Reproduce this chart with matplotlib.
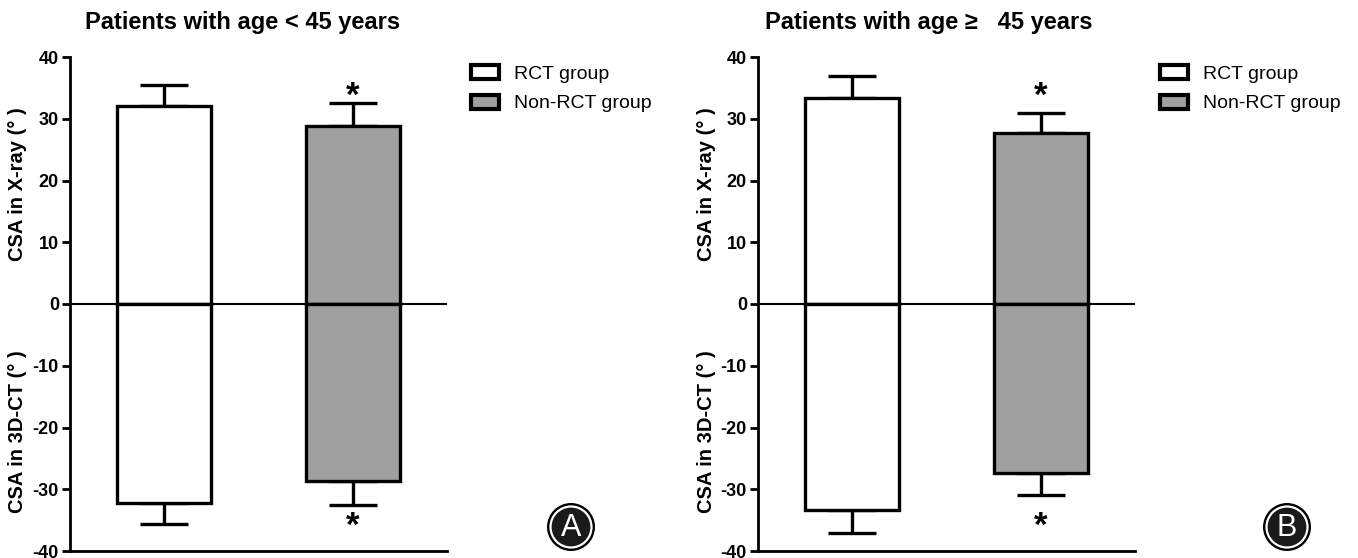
import matplotlib
matplotlib.use('Agg')
import matplotlib.pyplot as plt
from matplotlib.patches import Patch, Circle

plt.rcParams['font.family'] = ['Liberation Sans', 'DejaVu Sans']

# data (degrees)
groups = ['RCT group', 'Non-RCT group']
colors = ['white', '#a0a0a0']
panels = ['A', 'B']
titles = ['Patients with age < 45 years', 'Patients with age \u2265   45 years']
xray_mean = [[32.0, 28.9], [33.4, 27.7]]
xray_sd = [[3.4, 3.7], [3.5, 3.3]]
ct_mean = [[-32.2, -28.7], [-33.3, -27.4]]
ct_sd = [[3.4, 3.8], [3.8, 3.6]]
star = [[False, True], [False, True]]
star_y = [34.3, -35.3]
yticks = [-40, -30, -20, -10, 0, 10, 20, 30, 40]

W, H = 1358, 558
fig = plt.figure(figsize=(W / 100, H / 100), dpi=100)

lefts = [70, 758]
title_x = [243, 929]
legend_x = [471, 1160]
circle_x = [571, 1287]
circle_y = 527
lw = 2.4

for p in range(2):
  ax = fig.add_axes([lefts[p] / W, 7 / H, 377 / W, 494 / H])
  x = [0, 1]
  ax.bar(x, xray_mean[p], width=0.5, color=colors, edgecolor='black', linewidth=lw, zorder=3)
  ax.bar(x, ct_mean[p], width=0.5, color=colors, edgecolor='black', linewidth=lw, zorder=3)
  for i in x:
    ax.errorbar(i, xray_mean[p][i], yerr=[[0], [xray_sd[p][i]]], fmt='none', ecolor='black',
                elinewidth=lw, capsize=17, capthick=lw, zorder=2)
    ax.errorbar(i, ct_mean[p][i], yerr=[[ct_sd[p][i]], [0]], fmt='none', ecolor='black',
                elinewidth=lw, capsize=17, capthick=lw, zorder=2)
    if star[p][i]:
      for sy in star_y:
        # shift so the glyph centre (not the text box) sits on sy
        ax.annotate('*', xy=(i, sy), xytext=(0, -15), textcoords='offset points',
                    ha='center', va='bottom', fontsize=25, fontweight='bold')
  ax.axhline(0, color='black', linewidth=1.5, zorder=4)
  ax.set_xlim(-0.5, 1.5)
  ax.set_ylim(-40, 40)
  ax.set_yticks(yticks)
  ax.set_yticklabels([str(t) for t in yticks], fontsize=13, fontweight='bold')
  ax.set_xticks([])
  ax.spines['top'].set_visible(False)
  ax.spines['right'].set_visible(False)
  ax.spines['left'].set_linewidth(2)
  ax.spines['bottom'].set_linewidth(2)
  ax.tick_params(axis='y', width=2, length=6, pad=2)

  fig.text((lefts[p] - 52) / W, 1 - 184 / H, 'CSA in X-ray (\u00b0 )', rotation=90,
           ha='center', va='center', fontsize=14.5, fontweight='bold')
  fig.text((lefts[p] - 52) / W, 1 - 432 / H, 'CSA in 3D-CT (\u00b0 )', rotation=90,
           ha='center', va='center', fontsize=14.5, fontweight='bold')
  fig.text(title_x[p] / W, 1 - 22 / H, titles[p], ha='center', va='center',
           fontsize=17, fontweight='bold')

  handles = [Patch(facecolor=c, edgecolor='black', linewidth=3) for c in colors]
  fig.legend(handles, groups, loc='upper left', bbox_to_anchor=(legend_x[p] / W, 1 - 65 / H),
             frameon=False, fontsize=14, handlelength=1.45, handleheight=0.75,
             handletextpad=0.75, labelspacing=0.6, borderaxespad=0, borderpad=0)

  c = (circle_x[p], H - circle_y)
  fig.patches.append(Circle(c, 24, transform=None, facecolor='black', edgecolor='none', zorder=5))
  fig.patches.append(Circle(c, 20.5, transform=None, facecolor='#1a1a1a', edgecolor='white',
                            linewidth=1.6, zorder=6))
  fig.text(circle_x[p] / W, 1 - (circle_y + 1) / H, panels[p], ha='center', va='center',
           color='white', fontsize=22, zorder=7)

fig.savefig('out.png', dpi=100)
